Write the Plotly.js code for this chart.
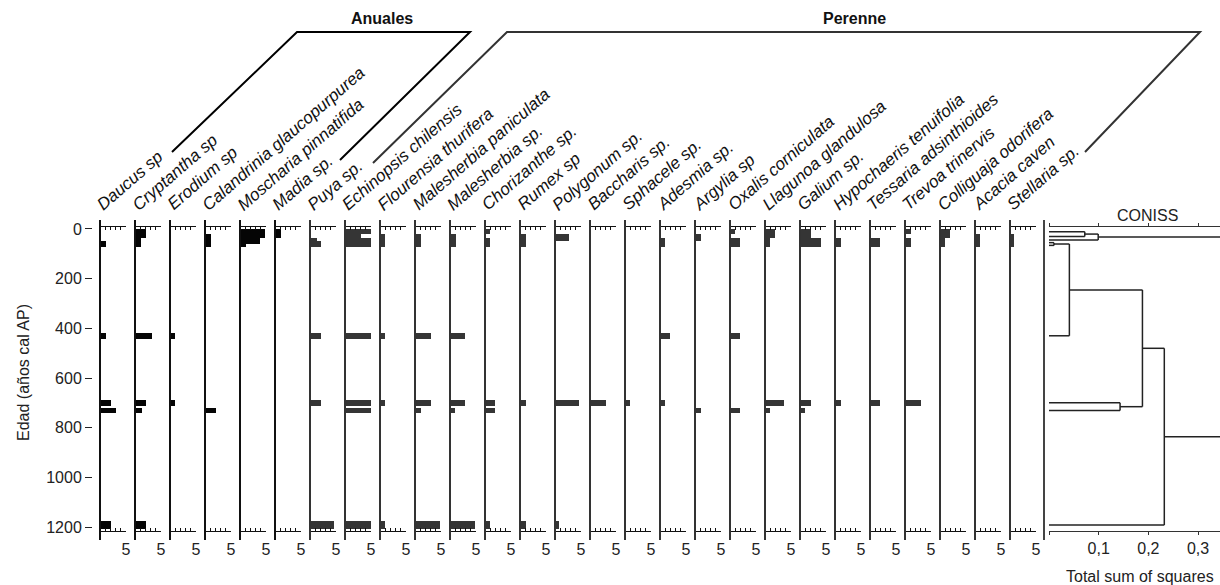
<!DOCTYPE html>
<html>
<head>
<meta charset="utf-8">
<script src="https://cdn.plot.ly/plotly-3.0.1.min.js"></script>
<style>html,body{margin:0;padding:0;background:#fff;}#chart{width:1220px;height:585px;}</style>
</head>
<body>
<div id="chart"></div>
<script>
// ---------------- DATA ----------------
const taxa = ["Daucus sp","Cryptantha sp","Erodium sp","Calandrinia glaucopurpurea","Moscharia pinnatifida","Madia sp.",
  "Puya sp.","Echinopsis chilensis","Flourensia thurifera","Malesherbia paniculata","Malesherbia sp.","Chorizanthe sp.",
  "Rumex sp","Polygonum sp.","Baccharis sp.","Sphacele sp.","Adesmia sp.","Argylia sp","Oxalis corniculata",
  "Llagunoa glandulosa","Galium sp.","Hypochaeris tenuifolia","Tessaria adsinthioides","Trevoa trinervis",
  "Colliguaja odorifera","Acacia caven","Stellaria sp."];
const annualCount = 6;
// sample ages (años cal AP)
const ages = [11, 30, 44, 55, 66, 430, 700, 731, 1192];
const daucus      = [0,0,0,1.2,1.2, 1.15,2.1,3.1,2.1];
const cryptantha  = [2.1,2.1,1.2,1.2,1.2, 3.2,2.2,1.3,2.2];
const erodium     = [0,0,0,0,0, 0.9,0.9,0,0];
const calandrinia = [0,1.1,1.1,1.1,1.1, 0,0,2.05,0];
const moscharia   = [4.8,4.8,3.85,3.85,1.15, 0,0,0,0];
const madia       = [1.2,1.2,0,0,0, 0,0,0,0];
const puya        = [0,0,1.3,2.05,2.05, 2.05,2.05,0,4.6];
const echinopsis  = [5,3.1,5,5,5, 5,5,5,5];
const flourensia  = [0,1.0,1.0,1.0,1.0, 1.0,1.0,0,1.0];
const malPanic    = [0,1.1,1.1,1.1,1.1, 3.0,3.0,1.1,4.9];
const malSp       = [0,1.1,1.1,1.1,1.1, 2.95,2.95,1.0,4.9];
const chorizanthe = [1.0,0,1.0,1.0,1.0, 0,1.9,1.9,1.0];
const rumex       = [0,1.1,1.1,1.1,1.1, 0,1.1,0,1.1];
const polygonum   = [0,2.75,2.75,0,0, 0,4.7,0,0.85];
const baccharis   = [0,0,0,0,0, 0,3.0,0,0];
const sphacele    = [0,0,0,0,0, 0,1.0,0,0];
const adesmia     = [0,0,1.0,1.0,1.0, 1.9,1.0,0,0];
const argylia     = [0,1.1,1.1,0,0, 0,0,1.1,0];
const oxalis      = [1.0,0,2.0,2.0,2.0, 1.9,0,1.9,0];
const llagunoa    = [2.0,2.0,1.0,1.0,1.0, 0,3.7,1.0,0];
const galium      = [2.05,2.05,4.0,4.0,4.0, 0,2.05,1.0,0];
const hypochaeris = [0,0,1.1,1.1,1.1, 0,1.1,0,0];
const tessaria    = [0,0,1.9,1.9,1.9, 0,1.9,0,0];
const trevoa      = [1.1,0,1.1,1.1,1.1, 0,3.0,0,0];
const colliguaja  = [2.0,2.0,1.0,1.0,1.0, 0,0,0,0];
const acacia      = [0,1.0,1.0,1.0,1.0, 0,0,0,0];
const stellaria   = [0,0.85,0.85,0.85,0.85, 0,0,0,0];
const series = [daucus,cryptantha,erodium,calandrinia,moscharia,madia,puya,echinopsis,flourensia,malPanic,malSp,
  chorizanthe,rumex,polygonum,baccharis,sphacele,adesmia,argylia,oxalis,llagunoa,galium,hypochaeris,tessaria,trevoa,
  colliguaja,acacia,stellaria];
const yTicks = [0,200,400,600,800,1000,1200];
const xTicks = [0,1,2,3,4,5];
const xTickText = ["","","","","","5"];
const conissTicks = [0,0.1,0.2,0.3];
const conissTickText = ["","0,1","0,2","0,3"];
// CONISS merges: [childA, childB, height]  (leaves 0..8, new nodes numbered from 9)
const merges = [[0,1,0.072],[9,2,0.099],[3,4,0.01],[11,5,0.041],[6,7,0.143],[12,13,0.188],[14,8,0.232],[10,15,0.40]];

// ---------------- STYLE / LAYOUT ----------------
const W = 1220, H = 585;
const px = p => p / W, py = p => 1 - p / H;
const firstLeft = 100, step = 35, panelW = 26;
const plotTop = 227, plotBottom = 531;
const barThick = [22,16,12,10,12,24,22,22,30];
const font = "Liberation Sans, Arial, sans-serif";
const annualColor = "#050505", perColor = "#353535";

const traces = [];
const layout = {
  width: W, height: H, margin: {l:0,r:0,t:0,b:0},
  paper_bgcolor: "#fff", plot_bgcolor: "rgba(0,0,0,0)",
  showlegend: false, bargap: 0, font: {family: font, size: 16, color: "#111"},
  yaxis: {domain: [py(plotBottom), py(plotTop)], range: [1216, -8], anchor: "free", position: px(92),
    tickvals: yTicks, ticks: "outside", ticklen: 7, tickcolor: "#222", showline: false, showgrid: false,
    zeroline: false, tickfont: {size: 16, color: "#222"}},
  shapes: [], annotations: []
};

series.forEach((vals, i) => {
  const L = firstLeft + i * step;
  const ax = "x" + (i + 1);
  const col = i < annualCount ? annualColor : perColor;
  traces.push({type: "bar", orientation: "h", x: vals, y: ages, width: barThick, xaxis: ax, yaxis: "y",
    marker: {color: col, line: {width: 0}}, name: taxa[i], hovertemplate: taxa[i] + ": %{x}<extra></extra>"});
  layout["xaxis" + (i + 1)] = {domain: [px(L), px(L + panelW)], range: [0, 5], anchor: "y",
    tickvals: xTicks, ticktext: xTickText, ticks: "inside", ticklen: 3, tickcolor: "#111",
    showline: true, linecolor: "#111", linewidth: 1, mirror: "ticks", showgrid: false, zeroline: false,
    ticklabelstandoff: 4, tickfont: {size: 16, color: "#222"}};
  layout.shapes.push({type: "line", xref: "paper", yref: "paper", x0: px(L), x1: px(L), y0: py(220), y1: py(540),
    line: {color: i < annualCount ? "#111" : "#333", width: 2}});
  layout.annotations.push({text: "<i>" + taxa[i] + "</i>", xref: "paper", yref: "paper", x: px(L - 9), y: py(217),
    xanchor: "left", yanchor: "bottom", textangle: -41, showarrow: false, font: {size: 17, color: "#111"}});
});

// CONISS panel
const cIdx = series.length + 1;
const cLeft = 1049;
const cRangeMax = (W - cLeft) / 497;
layout["xaxis" + cIdx] = {domain: [px(cLeft), 1], range: [0, cRangeMax], anchor: "y",
  tickvals: conissTicks, ticktext: conissTickText, ticks: "outside", ticklen: 3, tickcolor: "#333",
  showline: true, linecolor: "#333", linewidth: 1, mirror: "ticks", showgrid: false, zeroline: false,
  tickfont: {size: 16, color: "#222"}};
layout.shapes.push({type: "line", xref: "paper", yref: "paper", x0: px(1044), x1: px(1044), y0: py(220), y1: py(540),
  line: {color: "#444", width: 2}});

// dendrogram from merges
const nodeY = ages.slice(), nodeX = ages.map(() => 0);
const dx = [], dy = [];
merges.forEach(([a, b, h]) => {
  [a, b].forEach(c => { dx.push(nodeX[c], h, null); dy.push(nodeY[c], nodeY[c], null); });
  dx.push(h, h, null); dy.push(nodeY[a], nodeY[b], null);
  nodeY.push((nodeY[a] + nodeY[b]) / 2); nodeX.push(h);
});
traces.push({type: "scatter", mode: "lines", x: dx, y: dy, xaxis: "x" + cIdx, yaxis: "y",
  line: {color: "#222", width: 1.5}, hoverinfo: "skip"});

// group brackets
layout.shapes.push({type: "path", xref: "paper", yref: "paper",
  path: `M ${px(172)} ${py(152)} L ${px(297)} ${py(32)} L ${px(470)} ${py(32)} L ${px(340)} ${py(160)}`,
  line: {color: "#000", width: 2}});
layout.shapes.push({type: "path", xref: "paper", yref: "paper",
  path: `M ${px(373)} ${py(163)} L ${px(507)} ${py(32)} L ${px(1200)} ${py(32)} L ${px(1085)} ${py(152)}`,
  line: {color: "#333", width: 2}});

const ann = (text, x, y, extra) => Object.assign({text, xref: "paper", yref: "paper", x: px(x), y: py(y),
  xanchor: "center", yanchor: "middle", showarrow: false, font: {size: 16, color: "#222"}}, extra || {});
layout.annotations.push(
  ann("<b>Anuales</b>", 382, 19, {font: {size: 16, color: "#111"}}),
  ann("<b>Perenne</b>", 855, 19, {font: {size: 16, color: "#111"}}),
  ann("CONISS", 1147, 215),
  ann("Total sum of squares", 1064, 576, {xanchor: "left", font: {size: 16, color: "#222"}}),
  ann("Edad (años cal AP)", 23, 373, {textangle: -90})
);

Plotly.newPlot("chart", traces, layout, {displayModeBar: false, staticPlot: true});
</script>
</body>
</html>
